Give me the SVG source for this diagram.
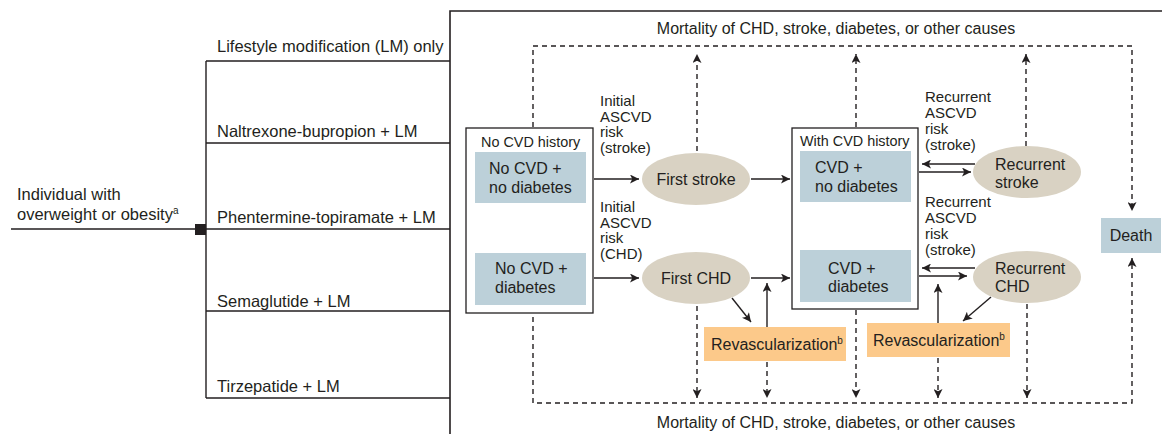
<svg xmlns="http://www.w3.org/2000/svg" width="1162" height="434" viewBox="0 0 1162 434">
<style>
text{font-family:"Liberation Sans Narrow","Liberation Sans",Arial,sans-serif;font-size:16px;fill:#231f20}
.s{font-size:15px}
.t{font-size:16.5px}
.h{font-size:14.4px}
.ln{stroke:#231f20;stroke-width:1.4;fill:none}
.dash{stroke:#231f20;stroke-width:1.4;fill:none;stroke-dasharray:5 4}
.blue{fill:#bcd0d9}
.ell{fill:#d9d2c3}
.org{fill:#fcc98a}
.box{fill:#fff;stroke:#231f20;stroke-width:1.3}
</style>
<defs>
<marker id="ah" viewBox="0 0 10 10" refX="10" refY="5" markerWidth="9" markerHeight="9" markerUnits="userSpaceOnUse" orient="auto">
<path d="M0,0 L10,5 L0,10 L2.5,5 Z" fill="#231f20"/>
</marker>
</defs>
<rect width="1162" height="434" fill="#fff"/>
<g id="tree">
<path class="ln" d="M11,229 H206 M206,61 V398 M206,61 H450 M206,143 H450 M206,229 H450 M206,311 H450 M206,398 H450"/>
<rect x="195" y="224" width="11" height="11" fill="#231f20"/>
<path d="M450,434 V11 H1162" stroke="#231f20" stroke-width="1.6" fill="none"/>
<text class="t" x="17" y="200">Individual with</text>
<text class="t" x="17" y="220">overweight or obesity<tspan font-size="10" dy="-6">a</tspan></text>
<text class="t" x="217" y="52">Lifestyle modification (LM) only</text>
<text class="t" x="217" y="137">Naltrexone-bupropion + LM</text>
<text class="t" x="217" y="223">Phentermine-topiramate + LM</text>
<text class="t" x="217" y="307">Semaglutide + LM</text>
<text class="t" x="217" y="392">Tirzepatide + LM</text>
</g>
<g id="mortality-labels">
<text x="836" y="34" text-anchor="middle">Mortality of CHD, stroke, diabetes, or other causes</text>
<text x="836" y="428" text-anchor="middle">Mortality of CHD, stroke, diabetes, or other causes</text>
</g>
<g id="connectors">
<path class="dash" d="M533,127 V46 H1132 V211" marker-end="url(#ah)"/>
<path class="dash" d="M533,317 V403 H1132 V258" marker-end="url(#ah)"/>
<path class="dash" d="M697,151 V54" marker-end="url(#ah)"/>
<path class="dash" d="M856,127 V54" marker-end="url(#ah)"/>
<path class="dash" d="M1026,146 V54" marker-end="url(#ah)"/>
<path class="dash" d="M697,306 V398" marker-end="url(#ah)"/>
<path class="dash" d="M767,362 V398" marker-end="url(#ah)"/>
<path class="dash" d="M856,310 V398" marker-end="url(#ah)"/>
<path class="dash" d="M938,358 V398" marker-end="url(#ah)"/>
<path class="dash" d="M1027,304 V398" marker-end="url(#ah)"/>
<path class="ln" d="M525,204 V249" marker-end="url(#ah)"/>
<path class="ln" d="M850,203 V247" marker-end="url(#ah)"/>
<path class="ln" d="M594,179 H639" marker-end="url(#ah)"/>
<path class="ln" d="M751,179 H790" marker-end="url(#ah)"/>
<path class="ln" d="M594,278 H639" marker-end="url(#ah)"/>
<path class="ln" d="M751,278 H790" marker-end="url(#ah)"/>
<path class="ln" d="M732,298 L751,322" marker-end="url(#ah)"/>
<path class="ln" d="M767,327 V283" marker-end="url(#ah)"/>
<path class="ln" d="M975,164 H922" marker-end="url(#ah)"/>
<path class="ln" d="M919,172 H971" marker-end="url(#ah)"/>
<path class="ln" d="M975,268 H922" marker-end="url(#ah)"/>
<path class="ln" d="M919,276 H967" marker-end="url(#ah)"/>
<path class="ln" d="M991,297 L963,321" marker-end="url(#ah)"/>
<path class="ln" d="M938,323 V284" marker-end="url(#ah)"/>
<text class="s" x="600"><tspan x="600" y="106">Initial</tspan><tspan x="600" y="122">ASCVD</tspan><tspan x="600" y="137">risk</tspan><tspan x="600" y="153">(stroke)</tspan></text>
<text class="s" x="600"><tspan x="600" y="212">Initial</tspan><tspan x="600" y="228">ASCVD</tspan><tspan x="600" y="243">risk</tspan><tspan x="600" y="259">(CHD)</tspan></text>
<text class="s"><tspan x="532" y="228">Diabetes</tspan><tspan x="532" y="243">risk</tspan></text>
<text class="s"><tspan x="858" y="223">Diabetes</tspan><tspan x="858" y="239">risk</tspan></text>
<text class="s"><tspan x="925" y="102">Recurrent</tspan><tspan x="925" y="118">ASCVD</tspan><tspan x="925" y="134">risk</tspan><tspan x="925" y="150">(stroke)</tspan></text>
<text class="s"><tspan x="925" y="207">Recurrent</tspan><tspan x="925" y="223">ASCVD</tspan><tspan x="925" y="239">risk</tspan><tspan x="925" y="255">(stroke)</tspan></text>
</g>
<g id="no-cvd-history">
<rect class="box" x="466" y="128" width="127" height="185"/>
<text class="h" x="481" y="147">No CVD history</text>
</g>
<g id="no-cvd-no-diabetes">
<rect class="blue" x="475" y="152" width="111" height="51"/>
<text><tspan x="489" y="174">No CVD +</tspan><tspan x="489" y="193">no diabetes</tspan></text>
</g>
<g id="no-cvd-diabetes">
<rect class="blue" x="475" y="253" width="111" height="52"/>
<text><tspan x="495" y="274">No CVD +</tspan><tspan x="495" y="293">diabetes</tspan></text>
</g>
<g id="first-stroke">
<ellipse class="ell" cx="696" cy="179" rx="54" ry="26"/>
<text x="696" y="185" text-anchor="middle">First stroke</text>
</g>
<g id="first-chd">
<ellipse class="ell" cx="696" cy="278" rx="54" ry="26"/>
<text x="696" y="284" text-anchor="middle">First CHD</text>
</g>
<g id="revasc-1">
<rect class="org" x="704" y="327" width="142" height="34"/>
<text x="711" y="350">Revascularization<tspan font-size="10" dy="-6">b</tspan></text>
</g>
<g id="with-cvd-history">
<rect class="box" x="792" y="128" width="126" height="181"/>
<text class="h" x="800" y="146">With CVD history</text>
</g>
<g id="cvd-no-diabetes">
<rect class="blue" x="800" y="151" width="111" height="51"/>
<text><tspan x="815" y="173">CVD +</tspan><tspan x="815" y="192">no diabetes</tspan></text>
</g>
<g id="cvd-diabetes">
<rect class="blue" x="800" y="250" width="111" height="52"/>
<text><tspan x="828" y="274">CVD +</tspan><tspan x="828" y="292">diabetes</tspan></text>
</g>
<g id="recurrent-stroke">
<ellipse class="ell" cx="1027" cy="172" rx="54" ry="26"/>
<text><tspan x="995" y="170">Recurrent</tspan><tspan x="995" y="188">stroke</tspan></text>
</g>
<g id="recurrent-chd">
<ellipse class="ell" cx="1027" cy="277" rx="54" ry="26"/>
<text><tspan x="995" y="274">Recurrent</tspan><tspan x="995" y="292">CHD</tspan></text>
</g>
<g id="revasc-2">
<rect class="org" x="867" y="323" width="143" height="34"/>
<text x="873" y="346">Revascularization<tspan font-size="10" dy="-6">b</tspan></text>
</g>
<g id="death">
<rect class="blue" x="1101" y="218" width="60" height="35"/>
<text x="1131" y="241" text-anchor="middle">Death</text>
</g>
</svg>
